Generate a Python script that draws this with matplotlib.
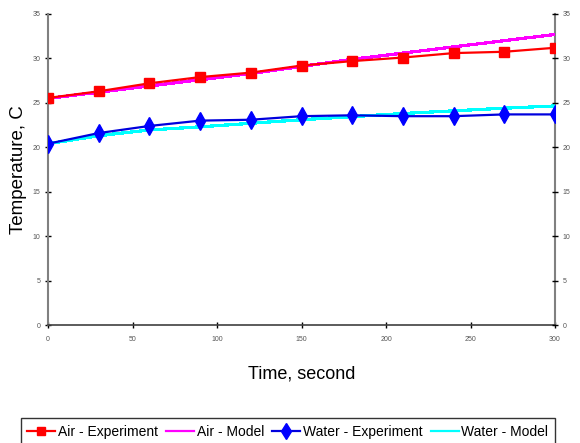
import matplotlib
matplotlib.use("Agg")
import matplotlib.pyplot as plt

time_s = [0, 30, 60, 90, 120, 150, 180, 210, 240, 270, 300]
air_experiment = [25.55, 26.3, 27.2, 27.9, 28.4, 29.2, 29.7, 30.1, 30.6, 30.75, 31.2]
air_model = [25.5, 26.2, 26.9, 27.6, 28.3, 29.1, 29.9, 30.6, 31.3, 32.0, 32.7]
water_experiment = [20.4, 21.6, 22.4, 23.0, 23.1, 23.5, 23.6, 23.5, 23.5, 23.7, 23.7]
water_model = [20.4, 21.3, 21.95, 22.3, 22.7, 23.1, 23.45, 23.8, 24.1, 24.4, 24.65]

x_ticks = [0, 50, 100, 150, 200, 250, 300]
y_ticks = [0, 5, 10, 15, 20, 25, 30, 35]

plt.rcParams['font.family'] = ['Liberation Sans', 'DejaVu Sans']

fig = plt.figure(figsize=(5.8, 4.43), dpi=100)
ax = fig.add_axes([48/580, 1-325/443, (555-48)/580, (325-14)/443])

ax.plot(time_s, air_experiment, color='#ff0000', lw=1.6, marker='s', ms=6.5,
        label='Air - Experiment', zorder=4)
ax.plot(time_s, air_model, color='#ff00ff', lw=1.6, label='Air - Model',
        antialiased=False, zorder=3)
ax.plot(time_s, water_experiment, color='#0000dd', lw=1.6, marker='d', ms=9,
        markerfacecolor='#0000ff', markeredgecolor='#0000ff',
        label='Water - Experiment', zorder=4)
ax.plot(time_s, water_model, color='#00ffff', lw=1.6, label='Water - Model',
        antialiased=False, zorder=3)

ax.set_xlim(0, 300)
ax.set_ylim(0, 35)
ax.set_xticks(x_ticks)
ax.set_yticks(y_ticks)
ax.tick_params(axis='both', labelsize=5, labelcolor='#555555', direction='inout',
               length=4, width=1, color='black')
ax.tick_params(axis='x', pad=6)
ax.spines['top'].set_visible(False)
ax.spines['left'].set_color('#808080')
ax.spines['left'].set_linewidth(1.5)
ax.spines['right'].set_color('#808080')
ax.spines['right'].set_linewidth(1.5)
ax.spines['bottom'].set_color('#404040')
ax.spines['bottom'].set_linewidth(1.2)

ax2 = ax.twinx()
ax2.set_ylim(0, 35)
ax2.set_yticks(y_ticks)
ax2.tick_params(axis='y', labelsize=5, labelcolor='#555555', direction='inout',
                length=4, width=1, color='black')
for s in ax2.spines.values():
    s.set_visible(False)

ax.set_xlabel('Time, second', fontsize=13, labelpad=16)
ax.set_ylabel('Temperature, C', fontsize=13.5, labelpad=4)

leg = fig.legend(loc='lower left', bbox_to_anchor=(14/580, -0.02),
                 ncol=4, fontsize=10, frameon=True, fancybox=False,
                 edgecolor='black', handlelength=2.0, handletextpad=0.2,
                 columnspacing=0.6, borderpad=0.45, markerscale=0.85)
leg.get_frame().set_linewidth(1.0)

fig.savefig('out.png', dpi=100)
